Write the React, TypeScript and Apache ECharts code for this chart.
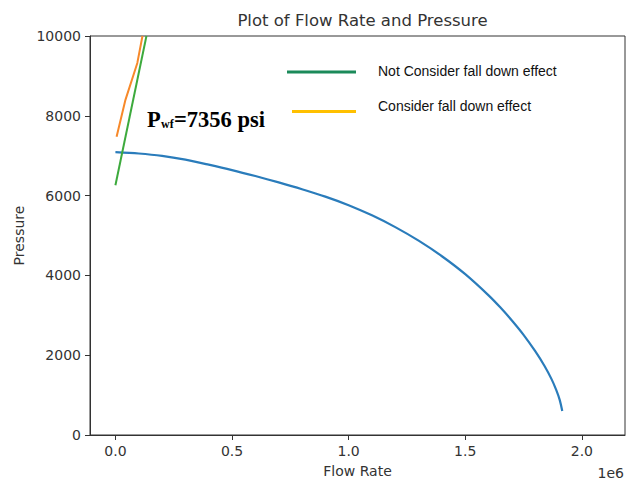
import React, { useEffect, useRef } from "react";
import * as echarts from "echarts";

// IPR curve (flow rate, pressure)
const iprFlow = [0, 100000, 200000, 300000, 400000, 500000, 600000, 700000, 800000, 900000, 1000000, 1100000, 1200000, 1300000, 1400000, 1500000, 1600000, 1650000, 1700000, 1750000, 1800000, 1840000, 1870000, 1890000, 1905000, 1916000];
const iprPressure = [7090, 7055, 6995, 6900, 6775, 6640, 6490, 6330, 6160, 5975, 5760, 5505, 5210, 4870, 4480, 4030, 3500, 3200, 2870, 2510, 2100, 1730, 1400, 1130, 880, 600];

// Tubing curve, not considering fall down effect
const notConsiderFlow = [0, 133000];
const notConsiderPressure = [6260, 10000];

// Tubing curve, considering fall down effect
const considerFlow = [5000, 43000, 94000, 116000];
const considerPressure = [7475, 8400, 9325, 10000];

const xTicks = [0, 500000, 1000000, 1500000, 2000000];

const legendNames = ["Not Consider fall down effect", "Consider fall down effect"];
const titleText = "Plot of Flow Rate and Pressure";
const annotationValue = "7356";

const zip = (a: number[], b: number[]) => a.map((v, i) => [v, b[i]]);

export default function App() {
  const ref = useRef<HTMLDivElement>(null);
  useEffect(() => {
    if (!ref.current) return;
    const chart = echarts.init(ref.current, null, { renderer: "svg" });
    const axisColor = "#333";
    const textColor = "#333";
    const font = "DejaVu Sans";
    chart.setOption({
      animation: false,
      backgroundColor: "#fff",
      title: {
        text: titleText,
        left: 357.5,
        textAlign: "center",
        top: 7,
        textStyle: { fontFamily: font, fontSize: 16.5, fontWeight: "normal", color: textColor },
      },
      grid: {
        left: 90,
        right: 1,
        top: 36,
        bottom: 43,
        show: true,
        borderColor: axisColor,
        borderWidth: 1,
        containLabel: false,
      },
      xAxis: {
        type: "value",
        min: -109000,
        max: 2185000,
        name: "Flow Rate",
        nameLocation: "middle",
        nameGap: 29,
        nameTextStyle: { fontFamily: font, fontSize: 14, color: textColor },
        axisLine: { show: true, onZero: false, lineStyle: { color: axisColor, width: 1 } },
        axisTick: { show: true, length: 5, lineStyle: { color: axisColor }, customValues: xTicks },
        axisLabel: {
          customValues: xTicks,
          fontFamily: font,
          fontSize: 14,
          color: textColor,
          margin: 9,
          formatter: (v: number) => (v / 1e6).toFixed(1),
        },
        splitLine: { show: false },
      },
      yAxis: {
        type: "value",
        min: 0,
        max: 10000,
        interval: 2000,
        name: "Pressure",
        nameLocation: "middle",
        nameGap: 64,
        nameTextStyle: { fontFamily: font, fontSize: 14, color: textColor },
        axisLine: { show: true, onZero: false, lineStyle: { color: axisColor, width: 1 } },
        axisTick: { show: true, length: 5, lineStyle: { color: axisColor } },
        axisLabel: {
          fontFamily: font,
          fontSize: 14,
          color: textColor,
          margin: 9,
          formatter: (v: number) => String(v),
        },
        splitLine: { show: false },
      },
      series: [
        {
          type: "line",
          data: zip(iprFlow, iprPressure),
          showSymbol: false,
          smooth: 0.3,
          lineStyle: { color: "#2a7cbb", width: 2.2 },
          clip: true,
        },
        {
          type: "line",
          data: zip(notConsiderFlow, notConsiderPressure),
          showSymbol: false,
          lineStyle: { color: "#3daa3d", width: 2 },
          clip: true,
        },
        {
          type: "line",
          data: zip(considerFlow, considerPressure),
          showSymbol: false,
          lineStyle: { color: "#f7892a", width: 2 },
          clip: true,
        },
      ],
      graphic: [
        { type: "line", shape: { x1: 287, y1: 72, x2: 356, y2: 72 }, style: { stroke: "#1b8a5a", lineWidth: 3 } },
        {
          type: "text",
          x: 378,
          y: 71,
          style: { text: legendNames[0], fontFamily: "Liberation Sans", fontSize: 14, fill: "#111", verticalAlign: "middle" },
        },
        { type: "line", shape: { x1: 292, y1: 111.5, x2: 356, y2: 111.5 }, style: { stroke: "#ffc000", lineWidth: 3 } },
        {
          type: "text",
          x: 378,
          y: 106,
          style: { text: legendNames[1], fontFamily: "Liberation Sans", fontSize: 14, fill: "#111", verticalAlign: "middle" },
        },
        {
          type: "text",
          x: 147,
          y: 119,
          style: { text: "P", fontFamily: "Liberation Serif", fontWeight: "bold", fontSize: 22.5, fill: "#000", verticalAlign: "middle" },
        },
        {
          type: "text",
          x: 161,
          y: 124,
          style: { text: "wf", fontFamily: "Liberation Serif", fontWeight: "bold", fontSize: 12, fill: "#000", verticalAlign: "middle" },
        },
        {
          type: "text",
          x: 174,
          y: 119,
          style: { text: "=" + annotationValue + " psi", fontFamily: "Liberation Serif", fontWeight: "bold", fontSize: 22.5, fill: "#000", verticalAlign: "middle" },
        },
        {
          type: "text",
          x: 624,
          y: 473,
          style: { text: "1e6", fontFamily: font, fontSize: 14, fill: textColor, align: "right", verticalAlign: "middle" },
        },
      ],
    });
    return () => chart.dispose();
  }, []);
  return <div ref={ref} style={{ width: 626, height: 483, position: "absolute", left: 0, top: 0 }} />;
}
